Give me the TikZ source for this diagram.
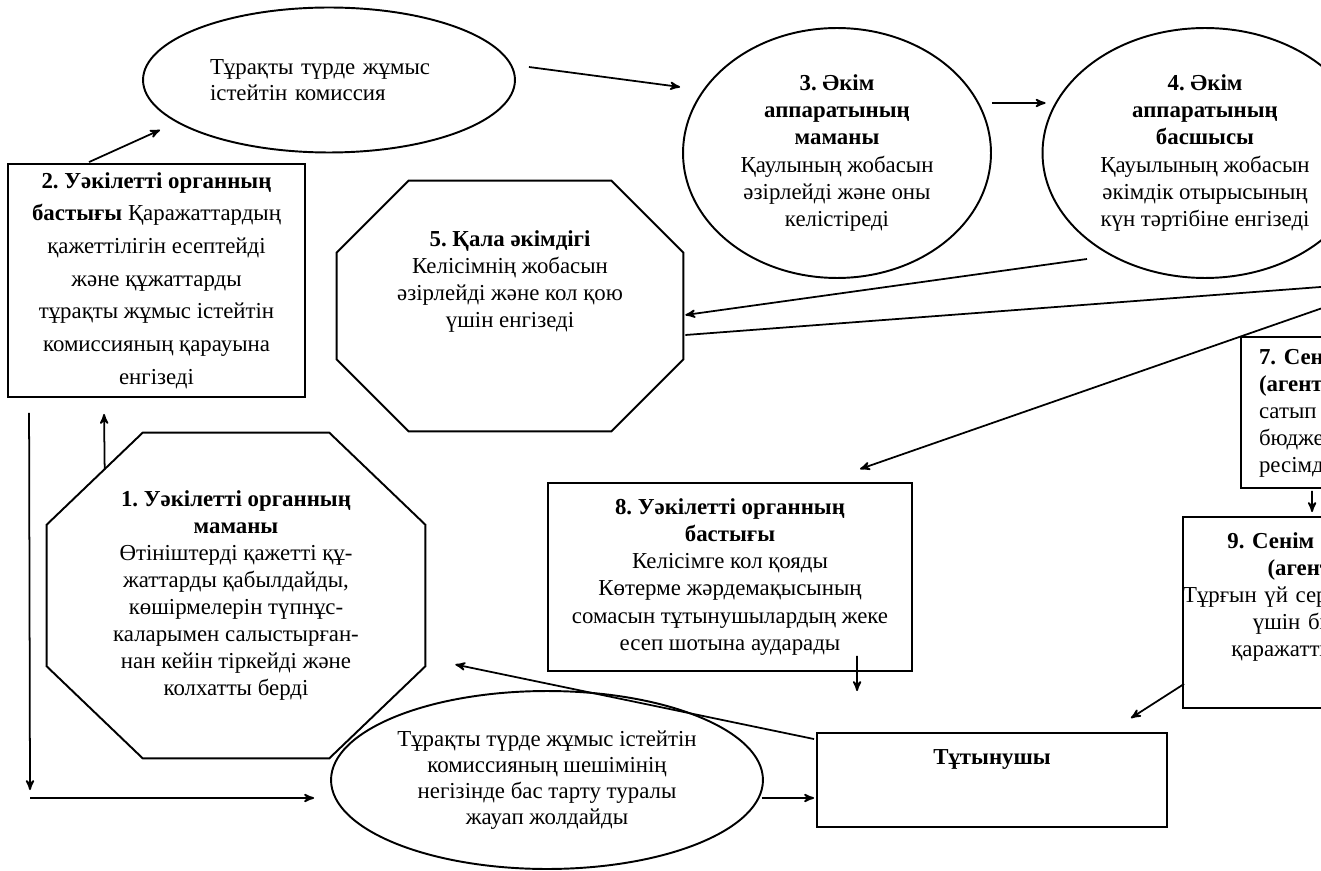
\documentclass[tikz,border=0pt]{standalone}
\usepackage{fontspec}
\setmainfont{Liberation Serif}
\usetikzlibrary{arrows, calc, shapes.geometric}

% cut-corner outline round a named rectangle node
\newcommand{\drawoct}[3]{%
  \draw[shapeline] ($(#1.north west)+(#2,0)$) -- ($(#1.north east)+(-#2,0)$)
    -- ($(#1.north east)+(0,#3)$) -- ($(#1.south east)+(0,-#3)$)
    -- ($(#1.south east)+(-#2,0)$) -- ($(#1.south west)+(#2,0)$)
    -- ($(#1.south west)+(0,-#3)$) -- ($(#1.north west)+(0,#3)$) -- cycle;}

\begin{document}
\frenchspacing
\begin{tikzpicture}[x=0.02cm, y=-0.02cm, >=stealth',
  every node/.style={inner sep=0pt, align=center, font=\fontsize{13}{15.4}\selectfont},
  shapeline/.style={draw, line width=1.1pt},
  box/.style={shapeline, rectangle},
  oval/.style={shapeline, ellipse},
  octbox/.style={rectangle},
  arr/.style={->, line width=1pt}]

\useasboundingbox (0,0) rectangle (1321,871);
\clip (0,0) rectangle (1321,871);

% define the states
\node[oval, minimum width=7.44cm, minimum height=2.9cm, text width=4.76cm, align=left,
  font=\fontsize{13}{14.8}\selectfont] (comm) at (329,80)
{Тұрақты түрде жұмыс\\істейтін комиссия};

\node[box, minimum width=5.94cm, minimum height=4.66cm,
  font=\fontsize{13}{18.6}\selectfont] (b2) at (156.5,280.5)
{\textbf{2. Уәкілетті органның}\\\textbf{бастығы} Қаражаттардың\\қажеттілігін есептейді\\және құжаттарды\\тұрақты жұмыс істейтін\\комиссияның қарауына\\енгізеді};

\node[oval, minimum width=6.16cm, minimum height=5cm] (c3) at (837,153)
{\textbf{3. Әкім}\\\textbf{аппаратының}\\\textbf{маманы}\\Қаулының жобасын\\әзірлейді және оны\\келістіреді};

\node[oval, minimum width=6.5cm, minimum height=5cm] (c4) at (1205,153)
{\textbf{4. Әкім}\\\textbf{аппаратының}\\\textbf{басшысы}\\Қауылының жобасын\\әкімдік отырысының\\күн тәртібіне енгізеді};

\node[octbox, minimum width=6.92cm, minimum height=5cm] (s5) at (510,306)
{\textbf{5. Қала әкімдігі}\\Келісімнің жобасын\\әзірлейді және кол қою\\үшін енгізеді\\\mbox{}\\\mbox{}};

\node[octbox, minimum width=7.56cm, minimum height=6.5cm] (s1) at (236,595.5)
{\textbf{1. Уәкілетті органның}\\\textbf{маманы}\\Өтініштерді қажетті құ-\\жаттарды қабылдайды,\\көшірмелерін түпнұс-\\каларымен салыстырған-\\нан кейін тіркейді және\\колхатты берді};

\node[box, minimum width=6.4cm, minimum height=3.02cm, text width=5.68cm, align=left] (b7) at (1401,412.5)
{\textbf{7. Сенім білдірілген}\\\textbf{(агент) банк}\\сатып алу шартын\\бюджет қаражаты\\ресімдейді};

\node[box, minimum width=7.28cm, minimum height=3.76cm] (b8) at (730,577)
{\textbf{8. Уәкілетті органның}\\\textbf{бастығы}\\Келісімге кол қояды\\Көтерме жәрдемақысының\\сомасын тұтынушылардың жеке\\есеп шотына аударады};

\node[box, text width=5.94cm, minimum height=3.82cm] (b9) at (1331.5,612.5)
{\textbf{9. Сенім білдірілген}\\\textbf{(агент) банк}\\\mbox{Тұрғын үй сертификатын төлеу}\\үшін бюджеттік\\қаражатты аударады\\[0.2cm]\mbox{}};

\node[oval, minimum width=8.64cm, minimum height=3.56cm,
  font=\fontsize{13}{14.8}\selectfont] (ellB) at (547,780)
{Тұрақты түрде жұмыс істейтін\\комиссияның шешімінің\\негізінде бас тарту туралы\\жауап жолдайды};

\node[box, minimum width=7cm, minimum height=1.88cm] (cons) at (992,780)
{\raisebox{0.31cm}[0pt][0pt]{\textbf{Тұтынушы}}};

\drawoct{s5}{72}{72}
\drawoct{s1}{96}{92}

\coordinate (turn) at (30,798);
\coordinate (n6) at (1400,281);

% define the links
\draw[arr] ($(b2.north west)+(82,-1)$) -- ($(comm.center)+(-169,50)$);
\draw[arr] ($(comm.east)+(13,-13)$) -- ($(c3.west)+(-2,-66)$);
\draw[arr] ($(c3.east)+(0,-50)$) -- ($(c4.west)+(4,-50)$);
\draw[arr] ($(c4.center)+(-118,106)$) -- ($(s5.east)+(2,9)$);
\draw[arr] ($(s5.east)+(2,29)$) -- (n6);
\draw[arr] (n6) -- ($(b8.north)+(130,-13)$);
\draw[arr] ($(b7.south west)+(72,2)$) -- ($(b9.north west)+(130,-4)$);
\draw[arr] ($(b8.south west)+(310,-16)$) -- ($(cons.north west)+(41,-41)$);
\draw[arr] ($(b9.south west)+(2,-25)$) -- ($(cons.north east)+(-37,-14)$);
\draw[arr] ($(cons.north west)+(-2,7)$) -- ($(s1.east)+(30,69)$);
\draw[arr] ($(s1.north west)+(58,37)$) -- ($(b2.south west)+(97,16)$);
\draw[arr] ($(b2.south west)+(22,15)$) -- ($(turn)+(0,-8)$);
\draw[arr] (turn) -- ($(ellB.west)+(-16,18)$);
\draw[arr] ($(ellB.east)+(-2,18)$) -- ($(cons.west)+(-2,18)$);

\end{tikzpicture}
\end{document}
